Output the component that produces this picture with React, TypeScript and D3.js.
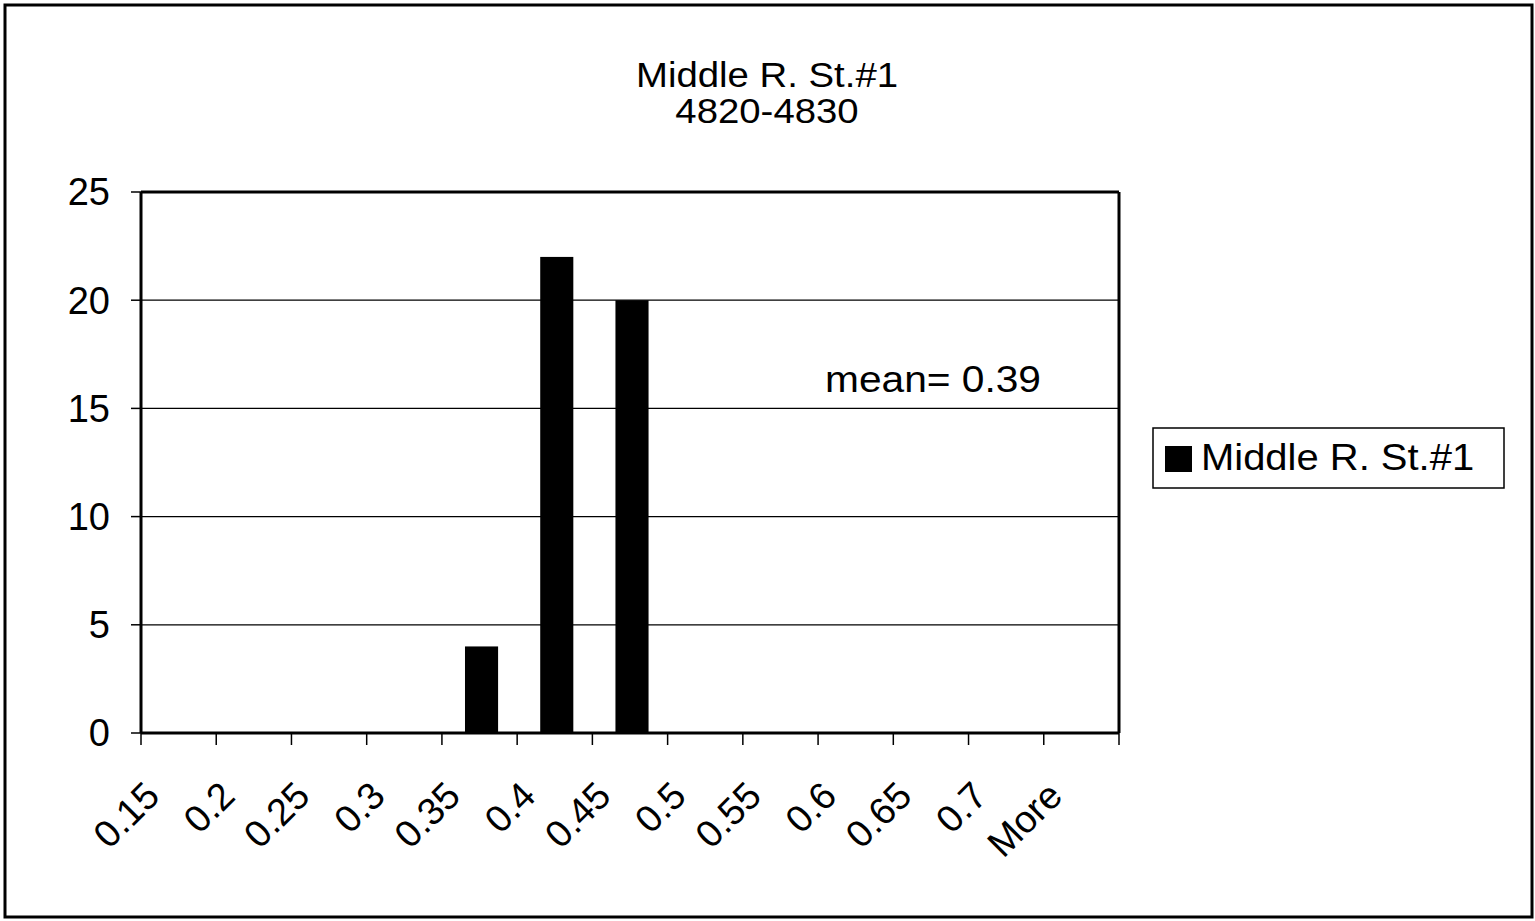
import React from "react";
import * as d3 from "d3";

const categories = ["0.15", "0.2", "0.25", "0.3", "0.35", "0.4", "0.45", "0.5", "0.55", "0.6", "0.65", "0.7", "More"];
const counts = [0, 0, 0, 0, 4, 22, 20, 0, 0, 0, 0, 0, 0];
const yTicks = [0, 5, 10, 15, 20, 25];
const titleLines = ["Middle R. St.#1", "4820-4830"];
const seriesName = "Middle R. St.#1";
const annotation = "mean= 0.39";

const W = 1535;
const H = 921;
const FONT = "'Liberation Sans', Arial, sans-serif";
const FS = 38;

export default function App() {
  const left = 141, right = 1119, top = 192, bottom = 733;

  const xBand = d3.scaleBand<string>().domain(categories).range([left, right]).padding(0);
  const xBar = d3.scaleBand<string>().domain(categories).range([left, right]).paddingInner(0.56).paddingOuter(0.28);
  const y = d3.scaleLinear().domain([0, 25]).range([bottom, top]);

  const step = xBand.step();
  const tickXs = d3.range(categories.length + 1).map((i) => left + i * step);

  return (
    <svg
      width={W}
      height={H}
      style={{ position: "absolute", left: 0, top: 0, background: "#fff" }}
      fontFamily={FONT}
    >
      <rect x={0} y={0} width={W} height={H} fill="#fff" />
      {/* outer chart border */}
      <rect x={5} y={5} width={1527} height={912} fill="none" stroke="#000" strokeWidth={3} />

      {/* title */}
      <g transform="translate(767,87) scale(1.08,1)">
        <text x={0} y={0} textAnchor="middle" fontSize={35.5} fill="#000">{titleLines[0]}</text>
      </g>
      <g transform="translate(767,123) scale(1.08,1)">
        <text x={0} y={0} textAnchor="middle" fontSize={35.5} fill="#000">{titleLines[1]}</text>
      </g>

      {/* gridlines */}
      {yTicks.filter((t) => t > 0 && t < 25).map((t) => (
        <line key={"g" + t} x1={left} x2={right} y1={y(t)} y2={y(t)} stroke="#000" strokeWidth={1.2} />
      ))}

      {/* bars */}
      {categories.map((c, i) =>
        counts[i] > 0 ? (
          <rect key={"b" + c} x={xBar(c)! + 2} y={y(counts[i])} width={xBar.bandwidth()} height={y(0) - y(counts[i])} fill="#000" />
        ) : null
      )}

      {/* plot border */}
      <line x1={left} x2={right} y1={top} y2={top} stroke="#000" strokeWidth={3} />
      <line x1={right} x2={right} y1={top} y2={bottom} stroke="#000" strokeWidth={3} />
      <line x1={left} x2={left} y1={top} y2={bottom} stroke="#000" strokeWidth={3} />
      <line x1={left} x2={right} y1={bottom} y2={bottom} stroke="#000" strokeWidth={3} />

      {/* y ticks and labels */}
      {yTicks.map((t) => (
        <g key={"y" + t}>
          <line x1={left - 10} x2={left} y1={y(t)} y2={y(t)} stroke="#000" strokeWidth={1.5} />
          <text x={left - 31} y={y(t)} dy="0.35em" textAnchor="end" fontSize={FS} fill="#000">{t}</text>
        </g>
      ))}

      {/* x ticks */}
      {tickXs.map((tx, i) => (
        <line key={"xt" + i} x1={tx} x2={tx} y1={bottom} y2={bottom + 12} stroke="#000" strokeWidth={1.5} />
      ))}

      {/* x labels */}
      {categories.map((c) => {
        const cx = xBand(c)! + step / 2 - 17;
        const cy = 798;
        return (
          <text key={"xl" + c} x={cx} y={cy} textAnchor="end" fontSize={FS} fill="#000" transform={`rotate(-45 ${cx} ${cy})`}>
            {c}
          </text>
        );
      })}

      {/* annotation */}
      <g transform="translate(825,392) scale(1.1,1)">
        <text x={0} y={0} fontSize={37} fill="#000">{annotation}</text>
      </g>

      {/* legend */}
      <rect x={1153} y={428} width={351} height={60} fill="#fff" stroke="#000" strokeWidth={1.5} />
      <rect x={1165} y={446} width={27} height={26} fill="#000" />
      <g transform="translate(1201,470) scale(1.08,1)">
        <text x={0} y={0} fontSize={37} fill="#000">{seriesName}</text>
      </g>
    </svg>
  );
}
